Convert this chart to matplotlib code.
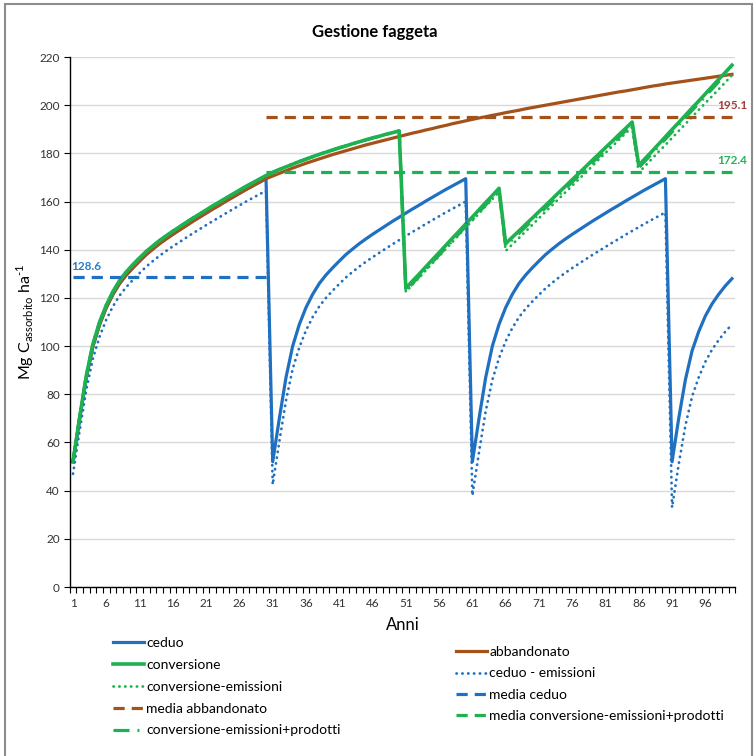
import matplotlib.pyplot as plt
from matplotlib.patches import Rectangle

plt.rcParams['font.family'] = ['Lato', 'DejaVu Sans']
plt.rcParams['mathtext.fontset'] = 'custom'
plt.rcParams['mathtext.rm'] = 'Lato'

# dati
anni = list(range(1, 101))
xtick_anni = list(range(1, 100, 5))

ceduo = [52, 70, 87, 100, 109, 116, 121.5, 126, 129.5, 132.5,
         135.3, 138, 140.3, 142.5, 144.5, 146.4, 148.2, 150, 151.8, 153.5,
         155.2, 156.9, 158.5, 160.2, 161.8, 163.4, 165, 166.5, 168, 169.5,
         52, 70, 87, 100, 109, 116, 121.5, 126, 129.5, 132.5,
         135.3, 138, 140.3, 142.5, 144.5, 146.4, 148.2, 150, 151.8, 153.5,
         155.2, 156.9, 158.5, 160.2, 161.8, 163.4, 165, 166.5, 168, 169.5,
         52, 70, 87, 100, 109, 116, 121.5, 126, 129.5, 132.5,
         135.3, 138, 140.3, 142.5, 144.5, 146.4, 148.2, 150, 151.8, 153.5,
         155.2, 156.9, 158.5, 160.2, 161.8, 163.4, 165, 166.5, 168, 169.5,
         52, 70, 86, 98, 106, 112.5, 117.5, 121.5, 125, 128]

abbandonato = [52, 70, 87, 100, 109, 116, 121.5, 126, 129.5, 132.5,
               135.3, 138, 140.3, 142.5, 144.5, 146.4, 148.2, 150, 151.8, 153.5,
               155.2, 156.9, 158.5, 160.2, 161.8, 163.4, 165, 166.5, 168, 169.5,
               170.6, 171.7, 172.8, 173.9, 174.9, 175.9, 176.8, 177.7, 178.6, 179.5,
               180.3, 181.1, 181.9, 182.7, 183.5, 184.2, 184.9, 185.6, 186.3, 187.0,
               187.7, 188.4, 189.0, 189.7, 190.3, 191.0, 191.6, 192.3, 192.9, 193.5,
               194.1, 194.7, 195.2, 195.8, 196.3, 196.9, 197.4, 197.9, 198.5, 199.0,
               199.5, 200.0, 200.5, 201.0, 201.5, 202.0, 202.5, 203.0, 203.5, 204.0,
               204.5, 205.0, 205.5, 205.9, 206.4, 206.9, 207.4, 207.9, 208.3, 208.8,
               209.2, 209.6, 210.0, 210.4, 210.8, 211.2, 211.6, 212.0, 212.4, 212.8]

conversione = [52, 70.5, 87.8, 101, 110, 117, 122.6, 127.2, 130.8, 133.8,
               136.6, 139.3, 141.6, 143.8, 145.8, 147.7, 149.5, 151.3, 153.1, 154.8,
               156.5, 158.2, 159.8, 161.5, 163.1, 164.7, 166.3, 167.8, 169.3, 170.8,
               172.1, 173.3, 174.4, 175.5, 176.6, 177.6, 178.6, 179.6, 180.5, 181.4,
               182.3, 183.1, 184, 184.8, 185.6, 186.4, 187.1, 187.9, 188.6, 189.3,
               124, 127, 129.9, 132.9, 135.9, 138.8, 141.8, 144.8, 147.7, 150.7,
               153.6, 156.6, 159.6, 162.5, 165.5,
               142.5, 145.2, 147.8, 150.5, 153.1, 155.8, 158.4, 161.1, 163.8, 166.4,
               169.1, 171.7, 174.4, 177.1, 179.7, 182.4, 185, 187.7, 190.3, 193,
               175, 178, 180.9, 183.9, 186.9, 189.9, 192.8, 195.8, 198.8, 201.7,
               204.7, 207.7, 210.7, 213.6, 216.6]

ceduo_emissioni = [47, 65, 82, 95, 104, 111, 116.5, 121, 124.5, 127.5,
                   130.3, 133, 135.3, 137.5, 139.5, 141.4, 143.2, 145, 146.8, 148.5,
                   150.2, 151.9, 153.5, 155.2, 156.8, 158.4, 160, 161.5, 163, 164.5,
                   42.5, 60.5, 77.5, 90.5, 99.5, 106.5, 112, 116.5, 120, 123,
                   125.8, 128.5, 130.8, 133, 135, 136.9, 138.7, 140.5, 142.3, 144,
                   145.7, 147.4, 149, 150.7, 152.3, 153.9, 155.5, 157, 158.5, 160,
                   38, 56, 73, 86, 95, 102, 107.5, 112, 115.5, 118.5,
                   121.3, 124, 126.3, 128.5, 130.5, 132.4, 134.2, 136, 137.8, 139.5,
                   141.2, 142.9, 144.5, 146.2, 147.8, 149.4, 151, 152.5, 154, 155.5,
                   33, 51, 67, 79, 87, 93.5, 98.5, 102.5, 106, 109]

conv_emissioni = [52, 70.5, 87.8, 101, 110, 117, 122.6, 127.2, 130.8, 133.8,
                  136.6, 139.3, 141.6, 143.8, 145.8, 147.7, 149.5, 151.3, 153.1, 154.8,
                  156.5, 158.2, 159.8, 161.5, 163.1, 164.7, 166.3, 167.8, 169.3, 170.8,
                  172.1, 173.3, 174.4, 175.5, 176.6, 177.6, 178.6, 179.6, 180.5, 181.4,
                  182.3, 183.1, 184, 184.8, 185.6, 186.4, 187.1, 187.9, 188.6, 189.3,
                  122.5, 125.5, 128.4, 131.4, 134.4, 137.3, 140.3, 143.2, 146.2, 149.2,
                  152.1, 155.1, 158.1, 161, 164,
                  139.5, 142.2, 144.9, 147.6, 150.3, 153.1, 155.8, 158.5, 161.2, 163.9,
                  166.6, 169.3, 172, 174.7, 177.5, 180.2, 182.9, 185.6, 188.3, 191,
                  172, 174.9, 177.8, 180.7, 183.5, 186.4, 189.3, 192.2, 195.1, 198,
                  200.9, 203.7, 206.6, 209.5, 212.4]

conv_em_prodotti = [52, 70.5, 87.8, 101, 110, 117, 122.6, 127.2, 130.8, 133.8,
                    136.6, 139.3, 141.6, 143.8, 145.8, 147.7, 149.5, 151.3, 153.1, 154.8,
                    156.5, 158.2, 159.8, 161.5, 163.1, 164.7, 166.3, 167.8, 169.3, 170.8,
                    172.1, 173.3, 174.4, 175.5, 176.6, 177.6, 178.6, 179.6, 180.5, 181.4,
                    182.3, 183.1, 184, 184.8, 185.6, 186.4, 187.1, 187.9, 188.6, 189.3,
                    123, 126, 128.9, 131.9, 134.9, 137.8, 140.8, 143.8, 146.7, 149.7,
                    152.6, 155.6, 158.6, 161.5, 164.5,
                    141.5, 144.2, 146.8, 149.5, 152.1, 154.8, 157.4, 160.1, 162.8, 165.4,
                    168.1, 170.7, 173.4, 176.1, 178.7, 181.4, 184, 186.7, 189.3, 192,
                    174, 177, 179.9, 182.9, 185.9, 188.9, 191.8, 194.8, 197.8, 200.7,
                    203.7, 206.7, 209.7, 212.6, 215.6]

# medie: (valore, primo anno, ultimo anno)
media_ceduo = (128.6, 1, 30)
media_abbandonato = (195.1, 30, 100)
media_conv = (172.4, 30, 100)

BLU = '#1f70c1'
VERDE = '#1db14f'
MARRONE = '#a4521a'

fig = plt.figure(figsize=(7.55, 7.56), dpi=100)
ax = fig.add_axes([0.0923, 0.2235, 0.8816, 0.7011])

lw = 2.3
l_ceduo, = ax.plot(anni, ceduo, color=BLU, lw=lw, label='ceduo')
l_abb, = ax.plot(anni, abbandonato, color=MARRONE, lw=lw, label='abbandonato')
l_conv, = ax.plot(anni, conversione, color=VERDE, lw=2.6, label='conversione')
l_ced_em, = ax.plot(anni, ceduo_emissioni, color=BLU, lw=2.0,
                    linestyle=(0, (0.1, 2.0)), dash_capstyle='round',
                    label='ceduo - emissioni')
l_conv_em, = ax.plot(anni, conv_emissioni, color=VERDE, lw=2.0,
                     linestyle=(0, (0.1, 2.0)), dash_capstyle='round',
                     label='conversione-emissioni')

def media(m, color, label):
    v, a0, a1 = m
    ln, = ax.plot([a0, a1], [v, v], color=color, lw=lw,
                  linestyle=(0, (3.5, 2.2)), label=label)
    return ln

l_m_ced = media(media_ceduo, BLU, 'media ceduo')
l_m_abb = media(media_abbandonato, MARRONE, 'media abbandonato')
l_m_conv = media(media_conv, VERDE, 'media conversione-emissioni+prodotti')
l_prod, = ax.plot(anni, conv_em_prodotti, color=VERDE, lw=lw,
                  linestyle=(0, (5, 2.5, 0.6, 2.5)),
                  label='conversione-emissioni+prodotti')

# etichette delle medie
lab_kw = dict(textcoords='offset points', va='bottom', fontsize=8.5, fontweight='bold')
ax.annotate(f'{media_ceduo[0]}', (media_ceduo[1], media_ceduo[0]),
            xytext=(-1, 4), ha='left', color='#2a7bc8', **lab_kw)
ax.annotate(f'{media_abbandonato[0]}', (media_abbandonato[2], media_abbandonato[0]),
            xytext=(0, 4), ha='center', color='#a3403a', **lab_kw)
ax.annotate(f'{media_conv[0]}', (media_conv[2], media_conv[0]),
            xytext=(0, 4), ha='center', color='#28b05a', **lab_kw)

# assi
ax.set_xlim(0.5, 100.5)
ax.set_ylim(0, 220)
ax.set_yticks(range(0, 221, 20))
ax.set_xticks(xtick_anni)
ax.set_xticks([a + 0.5 for a in [0] + anni], minor=True)
ax.tick_params(axis='x', which='major', length=0, pad=8, labelsize=8.5, labelcolor='#333333')
ax.tick_params(axis='x', which='minor', length=4, width=0.8, direction='out')
ax.tick_params(axis='y', length=4, width=0.8, labelsize=8.5, labelcolor='#333333', pad=3)
ax.grid(axis='y', color='#d9d9d9', lw=1)
ax.set_axisbelow(True)
for s in ['top', 'right']:
    ax.spines[s].set_visible(False)
ax.spines['left'].set_linewidth(1)
ax.spines['bottom'].set_linewidth(1)

ax.set_ylabel(r'Mg C$_{\mathregular{assorbito}}$ ha$^{\text{-1}}$', fontsize=11.5)
ax.yaxis.set_label_coords(-0.05, 0.5)
ax.set_xlabel('Anni', fontsize=12, va='center')
ax.xaxis.set_label_coords(0.5, -0.072)

fig.text(375 / 755, 1 - 32 / 756, 'Gestione faggeta', ha='center', va='center',
         fontsize=12, fontweight='bold')

# legenda su due colonne sfalsate
leg_kw = dict(frameon=False, fontsize=10, handlelength=2.2, handletextpad=0.2,
              borderpad=0, borderaxespad=0, loc='upper left')
leg1 = fig.legend(handles=[l_ceduo, l_conv, l_conv_em, l_m_abb, l_prod],
                  bbox_to_anchor=(113 / 755, 1 - 637 / 756), labelspacing=0.71, **leg_kw)
leg2 = fig.legend(handles=[l_abb, l_ced_em, l_m_ced, l_m_conv],
                  bbox_to_anchor=(456 / 755, 1 - 646 / 756), labelspacing=0.68, **leg_kw)

fig.patches.append(Rectangle((5 / 755, -0.01), 747 / 755, 1 - 4 / 756 + 0.01,
                             transform=fig.transFigure, fill=False,
                             edgecolor='#8c8c8c', lw=1.5))

fig.savefig('out.png', dpi=100)
